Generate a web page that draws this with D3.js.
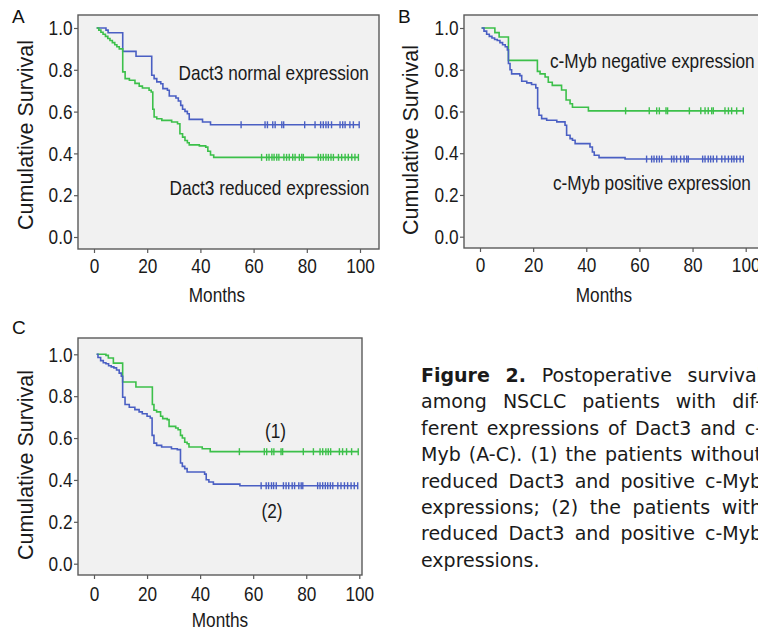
<!DOCTYPE html>
<html><head><meta charset="utf-8">
<script src="https://cdn.jsdelivr.net/npm/d3@7"></script>
<style>
html,body{margin:0;padding:0;background:#fff;overflow:hidden}
svg{display:block}
</style></head><body>
<svg id="fig" width="758" height="634"></svg>
<script>
// ---------------- DATA ----------------
const xTicks = [0, 20, 40, 60, 80, 100];
const yTicks = [0.0, 0.2, 0.4, 0.6, 0.8, 1.0];

// Panel A: Dact3 normal (blue)
const timeA_normal = [1.0, 4.5, 5.3, 10.8, 15.8, 21.7, 22.6, 23.6, 25.1, 25.9, 27.6, 28.3, 30.8, 31.7, 32.6, 33.3, 34.2, 35.1, 35.8, 40.8, 43.8, 99.7];
const survA_normal = [1.0, 0.99, 0.977, 0.888, 0.865, 0.774, 0.758, 0.742, 0.733, 0.71, 0.702, 0.675, 0.665, 0.651, 0.63, 0.611, 0.601, 0.59, 0.563, 0.55, 0.537, 0.537];
const censA_normal = [55.3, 64.3, 65.2, 67.2, 68.1, 70.6, 71.3, 79.2, 83.1, 85.2, 86.2, 87.2, 88.1, 89.3, 92.5, 93.5, 94.4, 96.2, 97.5, 99.7];

// Panel A: Dact3 reduced (green)
const timeA_reduced = [1.0, 1.8, 2.6, 3.4, 4.3, 5.2, 6.0, 6.9, 7.8, 8.6, 9.5, 10.8, 11.7, 13.3, 15.4, 17.0, 18.2, 20.7, 21.5, 22.1, 22.6, 23.6, 25.5, 29.2, 31.4, 32.3, 33.3, 34.2, 35.1, 35.8, 39.6, 42.0, 42.8, 43.8, 45.0, 99.4];
const survA_reduced = [1.0, 0.99, 0.98, 0.97, 0.96, 0.95, 0.94, 0.93, 0.92, 0.91, 0.90, 0.79, 0.758, 0.75, 0.735, 0.722, 0.713, 0.702, 0.694, 0.611, 0.574, 0.566, 0.558, 0.55, 0.542, 0.494, 0.478, 0.462, 0.451, 0.441, 0.436, 0.43, 0.41, 0.392, 0.381, 0.381];
const censA_reduced = [63.0, 64.9, 65.8, 66.9, 67.7, 68.7, 69.5, 71.4, 72.4, 73.4, 74.7, 75.6, 77.2, 78.1, 78.7, 84.3, 85.2, 86.2, 87.2, 88.1, 89.1, 90.0, 91.9, 93.1, 94.4, 95.6, 96.9, 98.1, 99.4];

// Panel B: c-Myb negative (green)
const timeB_negative = [0.6, 5.6, 7.2, 10.7, 21.6, 22.6, 24.5, 25.7, 27.2, 30.7, 32.4, 33.9, 34.8, 40.8, 99.1];
const survB_negative = [1.0, 0.978, 0.957, 0.845, 0.792, 0.78, 0.765, 0.74, 0.725, 0.703, 0.655, 0.637, 0.62, 0.603, 0.603];
const censB_negative = [54.8, 63.7, 66.5, 67.5, 70.0, 70.6, 78.8, 83.1, 84.7, 85.9, 87.2, 87.8, 92.2, 93.5, 94.7, 96.6, 99.1];

// Panel B: c-Myb positive (blue)
const timeB_positive = [0.6, 1.5, 2.5, 3.5, 4.5, 5.5, 6.5, 7.5, 8.5, 9.5, 10.3, 10.7, 11.3, 11.9, 15.0, 15.7, 17.6, 19.4, 21.0, 21.7, 22.2, 23.2, 25.1, 28.9, 32.0, 32.6, 33.9, 34.8, 35.8, 41.4, 42.3, 43.0, 44.8, 54.6, 99.1];
const survB_positive = [1.0, 0.985, 0.97, 0.96, 0.952, 0.945, 0.94, 0.93, 0.92, 0.91, 0.895, 0.83, 0.80, 0.78, 0.772, 0.745, 0.737, 0.729, 0.713, 0.614, 0.582, 0.566, 0.558, 0.55, 0.534, 0.486, 0.47, 0.462, 0.446, 0.43, 0.406, 0.39, 0.379, 0.372, 0.372];
const censB_positive = [62.7, 64.6, 65.5, 66.5, 67.5, 68.4, 72.1, 73.0, 74.0, 75.5, 76.8, 77.8, 78.4, 83.8, 84.7, 85.9, 86.8, 87.8, 89.1, 91.0, 92.2, 93.5, 94.7, 95.6, 96.6, 97.9, 99.1];

// Panel C: group (1) (green)
const timeC_group1 = [1.0, 4.5, 5.4, 7.3, 10.8, 15.8, 22.0, 22.6, 23.6, 25.1, 25.9, 27.6, 28.3, 30.8, 31.7, 32.6, 33.3, 34.2, 35.1, 35.8, 40.8, 43.8, 99.6];
const survC_group1 = [1.0, 0.995, 0.982, 0.958, 0.868, 0.844, 0.76, 0.733, 0.725, 0.704, 0.693, 0.688, 0.656, 0.648, 0.64, 0.613, 0.6, 0.58, 0.573, 0.557, 0.549, 0.535, 0.535];
const censC_group1 = [54.8, 64.2, 65.1, 67.0, 67.8, 70.5, 71.1, 78.9, 82.7, 85.2, 86.2, 87.4, 88.3, 89.2, 92.5, 93.7, 95.2, 97.1, 99.6];

// Panel C: group (2) (blue)
const timeC_group2 = [1.0, 1.5, 2.5, 3.5, 4.5, 5.5, 6.5, 7.5, 8.5, 9.5, 10.3, 10.8, 11.7, 13.3, 15.4, 17.0, 18.2, 20.0, 21.2, 21.9, 22.6, 23.6, 25.5, 29.2, 31.4, 32.6, 33.3, 34.2, 35.1, 41.7, 42.3, 43.3, 45.0, 55.0, 99.4];
const survC_group2 = [1.0, 0.985, 0.97, 0.96, 0.955, 0.945, 0.94, 0.935, 0.925, 0.91, 0.895, 0.795, 0.76, 0.747, 0.736, 0.725, 0.716, 0.704, 0.696, 0.613, 0.576, 0.565, 0.557, 0.549, 0.545, 0.481, 0.465, 0.454, 0.438, 0.428, 0.401, 0.39, 0.38, 0.3725, 0.3725];
const censC_group2 = [63.0, 64.9, 65.8, 66.9, 67.7, 68.7, 71.4, 72.4, 73.4, 74.7, 75.6, 77.2, 78.1, 78.7, 84.3, 85.2, 86.2, 87.2, 88.1, 89.1, 90.0, 91.9, 93.1, 94.4, 95.6, 96.9, 98.1, 99.4];

const captionLines = [
  "Figure 2. Postoperative survival",
  "among NSCLC patients with dif-",
  "ferent expressions of Dact3 and c-",
  "Myb (A-C). (1) the patients without",
  "reduced Dact3 and positive c-Myb",
  "expressions; (2) the patients with",
  "reduced Dact3 and positive c-Myb",
  "expressions."
];

// ---------------- STYLE / LAYOUT ----------------
const BLUE = "#4a5fc3", GREEN = "#3cc04a";
const REG = "'Liberation Sans',Arial,sans-serif";
const R = 0.82; // horizontal condensing (Arial Narrow look)

// condense a text horizontally with a scale transform
function narrow(sel) {
  sel.each(function () {
    const t = d3.select(this);
    const x = +(t.attr("x") || 0);
    t.attr("x", x / R).attr("transform", `scale(${R},1)`);
  });
  return sel;
}

const panels = [
  { letter: "A", lx: 12, ly: 23, box: [78, 15, 379, 249], xr: [94, 360], yr: [237, 28],
    months: [217, 302], ylab: [33, 135], xpad: 5,
    curves: [
      { t: timeA_normal, s: survA_normal, c: censA_normal, color: BLUE },
      { t: timeA_reduced, s: survA_reduced, c: censA_reduced, color: GREEN }
    ],
    notes: [ ["Dact3 normal expression", 178.5, 80], ["Dact3 reduced expression", 169.5, 195] ] },
  { letter: "B", lx: 398, ly: 23, box: [464, 15, 775, 248], xr: [480, 745.7], yr: [236.7, 28],
    months: [604, 302], ylab: [418, 140], xpad: 5,
    curves: [
      { t: timeB_negative, s: survB_negative, c: censB_negative, color: GREEN },
      { t: timeB_positive, s: survB_positive, c: censB_positive, color: BLUE }
    ],
    notes: [ ["c-Myb negative expression", 550, 68], ["c-Myb positive expression", 553, 190] ] },
  { letter: "C", lx: 12, ly: 334, box: [78, 338, 362, 575], xr: [94, 359.3], yr: [563.7, 354.3],
    months: [220, 627], ylab: [33, 465], xpad: 7,
    curves: [
      { t: timeC_group1, s: survC_group1, c: censC_group1, color: GREEN },
      { t: timeC_group2, s: survC_group2, c: censC_group2, color: BLUE }
    ],
    notes: [ ["(1)", 265, 438], ["(2)", 261.5, 518] ] }
];

const svg = d3.select("#fig");

panels.forEach(p => {
  const g = svg.append("g");
  const x = d3.scaleLinear().domain([0, 100]).range(p.xr);
  const y = d3.scaleLinear().domain([0, 1]).range(p.yr);
  const [bl, bt, br, bb] = p.box;

  g.append("rect").attr("x", bl).attr("y", bt).attr("width", br - bl).attr("height", bb - bt)
    .attr("fill", "#f1f1f1").attr("stroke", "#5a5a5a").attr("stroke-width", 1.4);

  const ya = g.append("g").attr("transform", `translate(${bl},0)`)
    .call(d3.axisLeft(y).tickValues(yTicks).tickFormat(d3.format(".1f")).tickSize(4).tickPadding(1.5));
  const xa = g.append("g").attr("transform", `translate(0,${bb})`)
    .call(d3.axisBottom(x).tickValues(xTicks).tickFormat(d3.format("d")).tickSize(4).tickPadding(p.xpad));
  [ya, xa].forEach(a => {
    a.select(".domain").remove();
    a.selectAll(".tick line").attr("stroke", "#5a5a5a").attr("stroke-width", 1.2);
    const tt = a.selectAll(".tick text").attr("fill", "#1a1a1a").style("font-family", REG).style("font-size", "21px");
    narrow(tt);
  });

  const line = d3.line().x(d => x(d[0])).y(d => y(d[1])).curve(d3.curveStepAfter);
  p.curves.forEach(cv => {
    g.append("path").datum(d3.zip(cv.t, cv.s)).attr("d", line)
      .attr("fill", "none").attr("stroke", cv.color).attr("stroke-width", 1.6);
    const pts = cv.c.map(t => [t, cv.s[Math.max(0, d3.bisectRight(cv.t, t) - 1)]]);
    g.selectAll(null).data(pts).enter().append("line")
      .attr("x1", d => x(d[0])).attr("x2", d => x(d[0]))
      .attr("y1", d => y(d[1]) - 3.5).attr("y2", d => y(d[1]) + 3.5)
      .attr("stroke", cv.color).attr("stroke-width", 1.4);
  });

  p.notes.forEach(n => {
    narrow(g.append("text").attr("x", n[1]).attr("y", n[2]).text(n[0])
      .attr("fill", "#1a1a1a").style("font-family", REG).style("font-size", "21px"));
  });

  narrow(g.append("text").attr("x", p.months[0]).attr("y", p.months[1]).attr("text-anchor", "middle")
    .text("Months").attr("fill", "#1a1a1a").style("font-family", REG).style("font-size", "21px"));

  g.append("text").attr("transform", `translate(${p.ylab[0]},${p.ylab[1]}) rotate(-90)`)
    .attr("text-anchor", "middle").text("Cumulative Survival")
    .attr("fill", "#1a1a1a").style("font-family", REG).style("font-size", "21.5px");

  g.append("text").attr("x", p.lx).attr("y", p.ly).text(p.letter)
    .attr("fill", "#111").style("font-family", REG).style("font-size", "19px");
});

// ---------------- CAPTION (justified) ----------------
const capX0 = 421, capX1 = 762, capY0 = 382, capDY = 26.4;
const cap = svg.append("g").style("font-family", "'DejaVu Sans',Verdana,sans-serif").style("font-size", "19px").attr("fill", "#1a1a1a");
const spaceProbe = cap.append("text").attr("x", -100).attr("y", -100).text("a a");
const aProbe = cap.append("text").attr("x", -100).attr("y", -100).text("aa");
const spaceW = spaceProbe.node().getComputedTextLength() - aProbe.node().getComputedTextLength();
spaceProbe.remove(); aProbe.remove();

captionLines.forEach((ln, i) => {
  const words = ln.split(" ");
  const nodes = words.map((w, j) => {
    const t = cap.append("text").attr("y", capY0 + i * capDY).text(w);
    if (i === 0 && j < 2) t.style("font-weight", "bold");
    return t;
  });
  const widths = nodes.map(n => n.node().getComputedTextLength());
  const total = d3.sum(widths);
  const last = i === captionLines.length - 1;
  const gap = (last || words.length < 2) ? spaceW : (capX1 - capX0 - total) / (words.length - 1);
  let cx = capX0;
  nodes.forEach((n, j) => { n.attr("x", cx); cx += widths[j] + gap; });
});
</script></body></html>
